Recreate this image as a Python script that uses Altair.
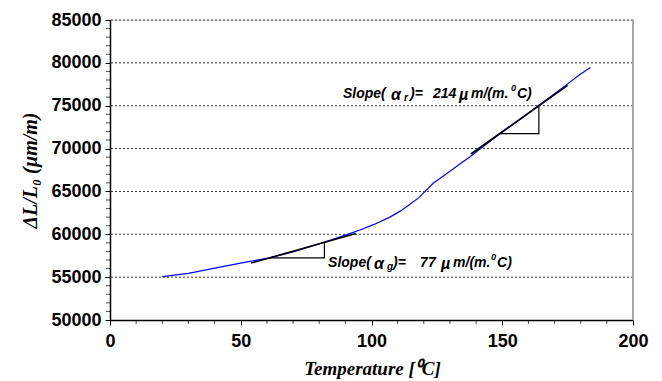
import altair as alt
import pandas as pd

# measured curve
temp = [20, 30, 41, 53, 61, 70, 76.5, 83.5, 90, 95.6, 101, 107, 111, 114.7, 118,
        120.5, 123.6, 128.7, 133.8, 137.7, 141.5, 149, 156, 164, 170, 175, 179.7, 183.7]
strain = [55050, 55450, 56100, 56820, 57250, 57950, 58550, 59250, 59900, 60500, 61150,
          62000, 62700, 63500, 64250, 65000, 65950, 67050, 68200, 69050, 69950, 71700,
          73250, 75050, 76400, 77550, 78650, 79450]

# tangent lines (start, end)
tan_g_T = [54, 94]
tan_g_v = [56650, 60080]
tan_r_T = [138, 175]
tan_r_v = [69365, 77380]

# slope triangles: horizontal leg then vertical leg
tri_g_T = [61, 82, 82]
tri_g_v = [57250, 57250, 59050]
tri_r_T = [149, 164, 164]
tri_r_v = [71750, 71750, 75000]

grid_values = [55000, 60000, 65000, 70000, 75000, 80000, 85000]
x_major = [0, 50, 100, 150, 200]
y_major = [50000, 55000, 60000, 65000, 70000, 75000, 80000, 85000]
x_minor = [v for v in range(0, 201, 10) if v % 50 != 0]
y_minor = [v for v in range(50000, 85001, 1000) if v % 5000 != 0]

ann_g = {"T": 83.4, "v": 56650, "num": "77", "sub": "g"}
ann_r = {"T": 89.1, "v": 76370, "num": "214", "sub": "r"}

curve_df = pd.DataFrame({"T": temp, "v": strain})

xs = alt.Scale(domain=[0, 200], nice=False)
ys = alt.Scale(domain=[50000, 85000], nice=False)

FONT = "Liberation Sans"

x_axis = alt.Axis(
    values=x_major, format="d",
    labelOverlap=False, labelFlush=False,
    grid=False, domainColor="black", domainWidth=1.5,
    tickColor="black", tickWidth=1, tickSize=5,
    labelFont=FONT, labelFontSize=18, labelFontWeight="bold", labelColor="black",
    labelPadding=7,
    title="Temperature [⁰C]", titleFont="Liberation Serif", titleFontSize=19,
    titleFontWeight="bold", titleFontStyle="italic", titleColor="black",
    titleX=262, titleY=48, titleBaseline="middle", titleAlign="center",
)
y_axis = alt.Axis(
    values=y_major, format="d",
    labelOverlap=False, labelFlush=False,
    grid=False, domainColor="black", domainWidth=1.5,
    tickColor="black", tickWidth=1, tickSize=5,
    labelFont=FONT, labelFontSize=18, labelFontWeight="bold", labelColor="black",
    labelPadding=4,
    title="ΔL/L₀ (µm/m)", titleFont="Liberation Serif", titleFontSize=20,
    titleFontWeight="bold", titleFontStyle="italic", titleColor="black",
    titleAngle=-90, titleX=-80, titleY=150, titleAlign="center", titleBaseline="middle",
)

grid = alt.Chart(pd.DataFrame({"v": grid_values})).mark_rule(
    color="#333333", strokeDash=[2, 2], strokeWidth=1
).encode(y=alt.Y("v:Q", scale=ys))

border = alt.Chart(pd.DataFrame({"T": [200], "v": [50000], "v2": [85000]})).mark_rule(
    color="#aaaaaa", strokeWidth=2
).encode(x=alt.X("T:Q", scale=xs), y=alt.Y("v:Q", scale=ys), y2="v2:Q")

minor_x = alt.Chart(pd.DataFrame({"T": x_minor})).mark_tick(
    orient="vertical", size=4, thickness=1, color="black"
).encode(x=alt.X("T:Q", scale=xs), y=alt.value(302))

minor_y = alt.Chart(pd.DataFrame({"v": y_minor})).mark_tick(
    orient="horizontal", size=4, thickness=1, color="black"
).encode(y=alt.Y("v:Q", scale=ys), x=alt.value(-2))

curve = alt.Chart(curve_df).mark_line(color="#0000ff", strokeWidth=1.2).encode(
    x=alt.X("T:Q", scale=xs, axis=x_axis),
    y=alt.Y("v:Q", scale=ys, axis=y_axis),
)

def seg(Ts, vs, w):
    return alt.Chart(pd.DataFrame({"T": Ts, "v": vs, "o": list(range(len(Ts)))})).mark_line(
        color="black", strokeWidth=w
    ).encode(x=alt.X("T:Q", scale=xs), y=alt.Y("v:Q", scale=ys), order="o:O")

layers = [grid, border, minor_x, minor_y, curve,
          seg(tan_g_T, tan_g_v, 1.6), seg(tan_r_T, tan_r_v, 1.6),
          seg(tri_g_T, tri_g_v, 1.2), seg(tri_r_T, tri_r_v, 1.2)]

def annotation(a, offs):
    pieces = [("Slope(", 0, 14, 0), ("α", offs[0], 16, 1), (a["sub"], offs[1], 10, 4),
              (")=", offs[2], 14, 0), (a["num"], offs[3], 14, 0), ("µ", offs[4], 16, 1),
              ("m/(m.", offs[5], 14, 0), ("0", offs[6], 9, -6), ("C)", offs[7], 14, 0)]
    out = []
    df = pd.DataFrame({"T": [a["T"]], "v": [a["v"]]})
    for txt, dx, size, dy in pieces:
        out.append(alt.Chart(df).mark_text(
            text=txt, align="left", baseline="middle", dx=dx, dy=dy,
            font=FONT, fontSize=size, fontWeight="bold", fontStyle="italic", color="black"
        ).encode(x=alt.X("T:Q", scale=xs), y=alt.Y("v:Q", scale=ys)))
    return out

layers += annotation(ann_g, [46, 59, 65, 92, 113, 125, 163, 169])
layers += annotation(ann_r, [48, 61, 67, 90, 116, 128, 168, 174])

chart = alt.layer(*layers).properties(
    width=523, height=300, autosize="none",
    padding={"left": 102, "top": 12, "right": 21, "bottom": 61},
).configure_view(stroke=None).configure(background="white")

chart.save("out.html", embed_options={"renderer": "svg", "actions": False})
